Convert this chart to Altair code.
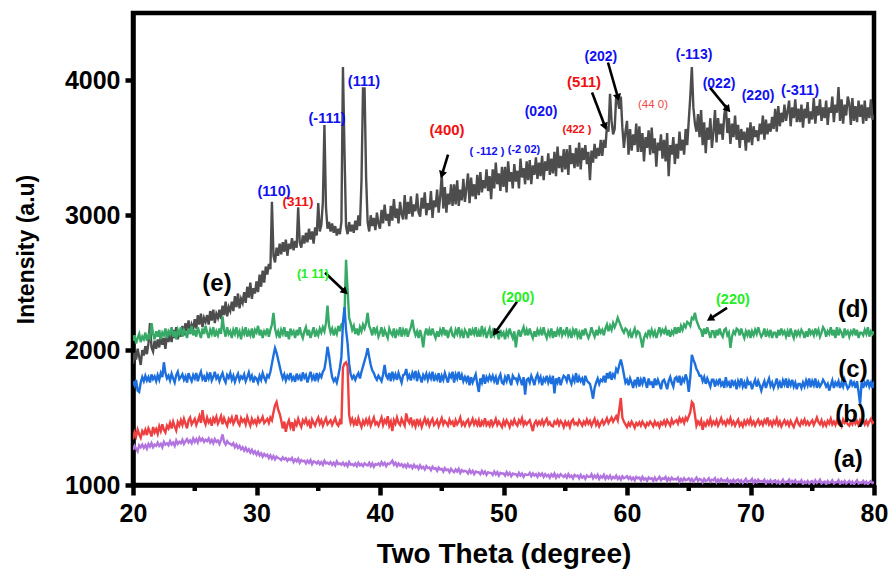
import math
import altair as alt
import pandas as pd

# ---------------- data ----------------
theta_start = 20.0
theta_step = 0.125

# (a) purple
a_vals = [
    1260, 1290, 1270, 1250, 1295, 1280, 1300, 1275,
    1295, 1270, 1305, 1285, 1310, 1280, 1300, 1290,
    1315, 1290, 1305, 1280, 1320, 1300, 1310, 1295,
    1325, 1300, 1315, 1290, 1330, 1305, 1320, 1310,
    1335, 1305, 1325, 1340, 1315, 1330, 1310, 1345,
    1320, 1340, 1315, 1350, 1330, 1345, 1320, 1335,
    1325, 1345, 1315, 1335, 1310, 1340, 1320, 1330,
    1305, 1335, 1375, 1320, 1300, 1325, 1310, 1305,
    1295, 1310, 1280, 1300, 1275, 1290, 1265, 1280,
    1255, 1275, 1250, 1265, 1240, 1260, 1235, 1250,
    1225, 1245, 1220, 1235, 1210, 1230, 1215, 1225,
    1200, 1220, 1195, 1215, 1190, 1210, 1200, 1195,
    1185, 1205, 1190, 1200, 1180, 1195, 1185, 1200,
    1170, 1190, 1175, 1195, 1165, 1185, 1175, 1180,
    1160, 1180, 1165, 1185, 1155, 1175, 1170, 1160,
    1175, 1155, 1170, 1150, 1180, 1160, 1165, 1155,
    1170, 1150, 1165, 1145, 1175, 1155, 1160, 1150,
    1165, 1145, 1160, 1140, 1170, 1150, 1155, 1145,
    1160, 1140, 1165, 1145, 1155, 1140, 1160, 1150,
    1145, 1165, 1140, 1160, 1135, 1155, 1150, 1160,
    1145, 1170, 1150, 1165, 1140, 1160, 1155, 1165,
    1180, 1150, 1165, 1140, 1160, 1145, 1155, 1135,
    1150, 1130, 1155, 1135, 1145, 1125, 1150, 1130,
    1140, 1120, 1145, 1125, 1135, 1115, 1140, 1125,
    1130, 1110, 1135, 1120, 1125, 1105, 1130, 1115,
    1120, 1100, 1125, 1110, 1115, 1095, 1120, 1105,
    1095, 1115, 1100, 1120, 1090, 1110, 1100, 1105,
    1100, 1085, 1110, 1090, 1105, 1080, 1100, 1095,
    1095, 1080, 1105, 1085, 1100, 1075, 1095, 1090,
    1090, 1075, 1100, 1080, 1095, 1070, 1090, 1085,
    1085, 1070, 1095, 1075, 1090, 1065, 1085, 1080,
    1080, 1065, 1090, 1070, 1085, 1060, 1080, 1075,
    1075, 1090, 1065, 1085, 1070, 1080, 1060, 1085,
    1070, 1085, 1060, 1080, 1065, 1075, 1055, 1080,
    1065, 1085, 1055, 1075, 1060, 1080, 1070, 1060,
    1075, 1055, 1080, 1060, 1070, 1050, 1075, 1065,
    1070, 1050, 1075, 1055, 1065, 1045, 1070, 1060,
    1060, 1080, 1050, 1070, 1055, 1075, 1045, 1065,
    1055, 1075, 1045, 1065, 1050, 1070, 1045, 1060,
    1050, 1070, 1045, 1060, 1040, 1065, 1050, 1055,
    1065, 1045, 1060, 1040, 1055, 1035, 1060, 1050,
    1055, 1035, 1060, 1040, 1050, 1030, 1055, 1045,
    1050, 1030, 1055, 1035, 1045, 1060, 1035, 1050,
    1045, 1060, 1030, 1050, 1035, 1055, 1040, 1045,
    1040, 1055, 1025, 1045, 1030, 1050, 1035, 1040,
    1050, 1030, 1045, 1025, 1040, 1055, 1030, 1045,
    1040, 1020, 1045, 1030, 1035, 1050, 1025, 1040,
    1035, 1050, 1020, 1040, 1025, 1045, 1030, 1035,
    1030, 1045, 1015, 1035, 1025, 1040, 1020, 1035,
    1040, 1020, 1035, 1015, 1030, 1045, 1020, 1030,
    1030, 1045, 1015, 1035, 1020, 1040, 1025, 1030,
    1025, 1040, 1010, 1030, 1020, 1035, 1015, 1030,
    1035, 1015, 1030, 1010, 1025, 1040, 1015, 1025,
    1025, 1040, 1010, 1030, 1020, 1035, 1015, 1025,
    1020, 1035, 1005, 1025, 1015, 1030, 1010, 1025,
    1030, 1010, 1035, 1015, 1025, 1040, 1010, 1020,
    1025, 1005, 1030, 1015, 1020, 1035, 1010, 1020,
    1020, 1035, 1005, 1025, 1015, 1030, 1010, 1020,
    1030, 1010, 1025, 1005, 1020, 1035, 1010, 1020,
    1015, 1030, 1010, 1025, 1005, 1020, 1030, 1015,
    1020,
]

# (b) red
b_vals = [
    1340, 1390, 1360, 1410, 1375, 1350, 1400, 1380,
    1410, 1370, 1420, 1395, 1360, 1430, 1390, 1415,
    1380, 1435, 1400, 1450, 1410, 1390, 1440, 1420,
    1460, 1420, 1470, 1435, 1405, 1465, 1440, 1480,
    1445, 1490, 1455, 1420, 1480, 1500, 1450, 1470,
    1490, 1445, 1475, 1510, 1460, 1555, 1480, 1450,
    1500, 1465, 1485, 1440, 1495, 1470, 1505, 1455,
    1480, 1510, 1450, 1495, 1465, 1440, 1490, 1470,
    1500, 1455, 1480, 1520, 1465, 1445, 1495, 1470,
    1485, 1450, 1505, 1470, 1440, 1490, 1460, 1480,
    1450, 1495, 1465, 1480, 1505, 1460, 1475, 1490,
    1460, 1500, 1480, 1540, 1590, 1615, 1560, 1530,
    1480, 1420, 1470, 1395, 1450, 1480, 1430, 1465,
    1400, 1470, 1445, 1490, 1455, 1430, 1480, 1460,
    1490, 1450, 1470, 1420, 1485, 1460, 1440, 1475,
    1500, 1455, 1480, 1440, 1470, 1495, 1450, 1465,
    1480, 1445, 1470, 1495, 1455, 1440, 1475, 1450,
    1870, 1900, 1910, 1880, 1520, 1460, 1490, 1450,
    1480, 1440, 1495, 1460, 1430, 1475, 1450, 1485,
    1455, 1490, 1440, 1470, 1500, 1450, 1465, 1440,
    1470, 1500, 1445, 1480, 1460, 1510, 1440, 1470,
    1400, 1480, 1455, 1500, 1460, 1445, 1490, 1465,
    1440, 1530, 1480, 1460, 1500, 1445, 1470, 1435,
    1490, 1450, 1475, 1430, 1465, 1495, 1455, 1480,
    1440, 1470, 1490, 1445, 1460, 1480, 1435, 1465,
    1495, 1450, 1475, 1460, 1440, 1485, 1455, 1470,
    1430, 1480, 1450, 1470, 1500, 1445, 1465, 1440,
    1470, 1485, 1440, 1460, 1490, 1450, 1475, 1445,
    1480, 1430, 1470, 1450, 1495, 1445, 1465, 1440,
    1485, 1440, 1460, 1490, 1445, 1470, 1450, 1430,
    1475, 1445, 1480, 1460, 1430, 1470, 1450, 1485,
    1455, 1440, 1480, 1460, 1495, 1445, 1470, 1450,
    1465, 1480, 1440, 1400, 1455, 1475, 1445, 1470,
    1450, 1480, 1445, 1470, 1490, 1450, 1465, 1440,
    1435, 1470, 1455, 1480, 1445, 1475, 1460, 1430,
    1470, 1445, 1465, 1430, 1470, 1485, 1450, 1460,
    1445, 1480, 1460, 1440, 1470, 1450, 1485, 1455,
    1475, 1440, 1465, 1490, 1445, 1470, 1435, 1460,
    1480, 1450, 1470, 1495, 1460, 1480, 1500, 1470,
    1490, 1510, 1480, 1560, 1645, 1500, 1470, 1450,
    1430, 1460, 1440, 1470, 1450, 1425, 1460, 1445,
    1465, 1440, 1470, 1450, 1430, 1460, 1445, 1470,
    1455, 1435, 1470, 1445, 1460, 1430, 1465, 1450,
    1475, 1445, 1480, 1460, 1440, 1485, 1455, 1470,
    1480, 1455, 1495, 1470, 1490, 1460, 1500, 1480,
    1510, 1540, 1615, 1600, 1520, 1440, 1470, 1450,
    1480, 1410, 1460, 1440, 1475, 1450, 1490, 1445,
    1470, 1450, 1480, 1440, 1465, 1495, 1455, 1470,
    1445, 1480, 1460, 1495, 1450, 1470, 1440, 1465,
    1485, 1440, 1460, 1435, 1475, 1450, 1480, 1455,
    1490, 1450, 1470, 1440, 1465, 1485, 1450, 1470,
    1445, 1480, 1460, 1500, 1450, 1470, 1440, 1475,
    1455, 1490, 1445, 1470, 1435, 1460, 1480, 1450,
    1470, 1440, 1475, 1450, 1430, 1465, 1490, 1455,
    1440, 1475, 1455, 1485, 1450, 1470, 1445, 1465,
    1480, 1445, 1470, 1500, 1465, 1450, 1480, 1440,
    1465, 1440, 1475, 1455, 1490, 1450, 1470, 1445,
    1480, 1455, 1470, 1440, 1485, 1460, 1475, 1450,
    1440, 1470, 1450, 1485, 1455, 1475, 1445, 1480,
    1460, 1480, 1450, 1475, 1445, 1470, 1490, 1460,
    1470,
]

# (c) blue
c_vals = [
    1770, 1740, 1780, 1700, 1690, 1760, 1800, 1770,
    1810, 1775, 1800, 1760, 1820, 1785, 1805, 1770,
    1815, 1780, 1830, 1800, 1910, 1830, 1790, 1810,
    1775, 1825, 1790, 1760, 1815, 1840, 1785, 1800,
    1820, 1780, 1805, 1760, 1830, 1795, 1770, 1815,
    1790, 1830, 1770, 1810, 1840, 1785, 1805, 1765,
    1820, 1790, 1835, 1775, 1800, 1840, 1790, 1810,
    1770, 1805, 1830, 1785, 1760, 1815, 1795, 1830,
    1780, 1810, 1765, 1800, 1825, 1775, 1805, 1790,
    1820, 1770, 1800, 1835, 1785, 1810, 1760, 1800,
    1790, 1760, 1810, 1780, 1830, 1795, 1770, 1815,
    1800, 1840, 1900, 1960, 2015, 1980, 1930, 1880,
    1830, 1790, 1820, 1775, 1810, 1790, 1830, 1780,
    1800, 1765, 1825, 1790, 1810, 1770, 1835, 1795,
    1815, 1760, 1800, 1840, 1785, 1810, 1770, 1830,
    1785, 1820, 1800, 1840, 1860, 1930, 2025, 1960,
    1870, 1800, 1770, 1790, 1760, 1810, 1870, 1950,
    2200, 2320, 2150, 2050, 1900, 1820, 1790, 1810,
    1780, 1810, 1830, 1790, 1840, 1880, 1920, 1960,
    2015, 1950, 1890, 1850, 1830, 1800, 1780, 1810,
    1790, 1770, 1820, 1890, 1810, 1790, 1830, 1770,
    1840, 1790, 1820, 1780, 1830, 1795, 1760, 1815,
    1820, 1860, 1790, 1815, 1775, 1830, 1800, 1845,
    1770, 1830, 1800, 1760, 1815, 1790, 1825, 1780,
    1820, 1790, 1840, 1770, 1810, 1785, 1830, 1760,
    1810, 1780, 1830, 1795, 1760, 1820, 1800, 1840,
    1760, 1820, 1790, 1840, 1780, 1815, 1770, 1800,
    1770, 1810, 1740, 1800, 1760, 1790, 1820, 1750,
    1690, 1790, 1760, 1820, 1750, 1800, 1775, 1810,
    1780, 1810, 1770, 1800, 1745, 1795, 1820, 1760,
    1750, 1800, 1770, 1820, 1780, 1740, 1810, 1790,
    1790, 1760, 1810, 1780, 1740, 1800, 1670, 1780,
    1790, 1760, 1810, 1780, 1740, 1795, 1820, 1770,
    1800, 1740, 1790, 1770, 1810, 1760, 1795, 1750,
    1810, 1680, 1790, 1760, 1800, 1740, 1780, 1810,
    1800, 1770, 1820, 1780, 1750, 1800, 1770, 1830,
    1760, 1800, 1770, 1790, 1740, 1810, 1775, 1760,
    1750, 1700, 1640, 1720, 1760, 1790, 1750, 1780,
    1770, 1810, 1760, 1830, 1790, 1840, 1780, 1820,
    1800, 1860, 1840, 1890, 1930, 1880, 1820, 1760,
    1780, 1740, 1790, 1760, 1720, 1780, 1745, 1800,
    1730, 1780, 1750, 1800, 1760, 1720, 1790, 1750,
    1760, 1720, 1790, 1740, 1780, 1750, 1710, 1770,
    1780, 1750, 1710, 1770, 1800, 1760, 1730, 1790,
    1800, 1760, 1810, 1740, 1790, 1770, 1820, 1780,
    1690, 1800, 1965, 1930, 1900, 1860, 1840, 1810,
    1810, 1770, 1800, 1750, 1790, 1760, 1730, 1780,
    1780, 1730, 1770, 1750, 1790, 1740, 1760, 1720,
    1800, 1740, 1760, 1720, 1780, 1745, 1765, 1710,
    1770, 1740, 1790, 1730, 1760, 1715, 1780, 1750,
    1760, 1710, 1750, 1780, 1730, 1770, 1740, 1700,
    1740, 1770, 1720, 1760, 1790, 1735, 1760, 1720,
    1750, 1790, 1730, 1760, 1720, 1775, 1745, 1790,
    1720, 1770, 1740, 1780, 1730, 1760, 1710, 1750,
    1750, 1720, 1760, 1730, 1775, 1740, 1790, 1725,
    1770, 1740, 1790, 1720, 1760, 1730, 1750, 1780,
    1760, 1730, 1750, 1700, 1740, 1775, 1720, 1760,
    1740, 1770, 1720, 1760, 1730, 1780, 1745, 1715,
    1730, 1780, 1740, 1760, 1720, 1770, 1690, 1600,
    1770, 1720, 1760, 1740, 1780, 1730, 1760, 1720,
    1770,
]

# (d) green
d_vals = [
    2070, 2110, 2050, 2090, 2120, 2060, 2100, 2080,
    2130, 2070, 2110, 2090, 2200, 2120, 2080, 2140,
    2100, 2150, 2080, 2130, 2110, 2160, 2090, 2140,
    2120, 2170, 2100, 2140, 2080, 2150, 2120, 2170,
    2100, 2150, 2130, 2090, 2160, 2120, 2180, 2110,
    2150, 2100, 2170, 2130, 2090, 2160, 2120, 2180,
    2130, 2090, 2150, 2120, 2170, 2100, 2140, 2110,
    2160, 2120, 2250, 2150, 2100, 2170, 2120, 2140,
    2090, 2150, 2120, 2170, 2110, 2140, 2080, 2150,
    2120, 2170, 2100, 2140, 2110, 2160, 2090, 2150,
    2130, 2180, 2110, 2150, 2090, 2140, 2120, 2160,
    2100, 2150, 2190, 2277, 2160, 2110, 2140, 2090,
    2150, 2120, 2170, 2100, 2140, 2080, 2160, 2120,
    2140, 2090, 2150, 2110, 2170, 2120, 2090, 2140,
    2170, 2110, 2150, 2090, 2130, 2170, 2100, 2140,
    2110, 2160, 2130, 2170, 2140, 2200, 2330, 2180,
    2130, 2160, 2110, 2150, 2120, 2180, 2140, 2190,
    2200, 2260, 2670, 2450, 2240, 2200, 2150, 2180,
    2120, 2160, 2110, 2170, 2140, 2190, 2160, 2200,
    2277, 2180, 2150, 2110, 2170, 2130, 2160, 2100,
    2130, 2170, 2100, 2150, 2120, 2090, 2160, 2130,
    2110, 2160, 2090, 2140, 2120, 2170, 2100, 2150,
    2120, 2160, 2100, 2140, 2170, 2225, 2150, 2110,
    2140, 2090, 2150, 2100, 2020, 2120, 2160, 2110,
    2150, 2110, 2160, 2120, 2090, 2140, 2100, 2150,
    2120, 2170, 2110, 2150, 2090, 2140, 2160, 2110,
    2100, 2150, 2120, 2170, 2110, 2140, 2090, 2150,
    2130, 2090, 2160, 2110, 2150, 2120, 2170, 2100,
    2140, 2100, 2180, 2120, 2150, 2090, 2130, 2160,
    2090, 2140, 2110, 2160, 2120, 2080, 2150, 2110,
    2130, 2080, 2140, 2110, 2160, 2120, 2090, 2140,
    2020, 2110, 2150, 2100, 2140, 2170, 2110, 2150,
    2110, 2160, 2120, 2090, 2140, 2100, 2150, 2120,
    2150, 2110, 2170, 2120, 2090, 2140, 2110, 2160,
    2090, 2140, 2100, 2150, 2120, 2170, 2110, 2140,
    2120, 2170, 2110, 2140, 2090, 2150, 2120, 2160,
    2100, 2130, 2080, 2150, 2110, 2160, 2120, 2090,
    2120, 2170, 2130, 2100, 2150, 2110, 2160, 2130,
    2150, 2110, 2160, 2190, 2140, 2180, 2150, 2200,
    2170, 2200, 2240, 2210, 2180, 2150, 2130, 2160,
    2150, 2110, 2140, 2090, 2130, 2160, 2110, 2140,
    2130, 2080, 2020, 2090, 2120, 2100, 2150, 2110,
    2150, 2110, 2140, 2090, 2130, 2170, 2120, 2150,
    2130, 2160, 2110, 2150, 2100, 2140, 2120, 2170,
    2120, 2170, 2130, 2180, 2150, 2190, 2170, 2210,
    2200, 2180, 2240, 2230, 2277, 2220, 2190, 2160,
    2150, 2100, 2160, 2120, 2170, 2130, 2090, 2140,
    2140, 2090, 2150, 2110, 2160, 2120, 2100, 2150,
    2160, 2110, 2130, 2017, 2100, 2140, 2120, 2160,
    2150, 2110, 2160, 2120, 2090, 2140, 2110, 2150,
    2090, 2140, 2110, 2150, 2120, 2170, 2130, 2100,
    2120, 2160, 2100, 2140, 2110, 2150, 2090, 2130,
    2130, 2090, 2150, 2110, 2160, 2120, 2140, 2100,
    2140, 2100, 2160, 2120, 2090, 2150, 2110, 2140,
    2110, 2150, 2130, 2090, 2140, 2100, 2160, 2120,
    2140, 2110, 2160, 2120, 2150, 2100, 2130, 2170,
    2150, 2100, 2140, 2120, 2170, 2110, 2150, 2090,
    2170, 2110, 2150, 2130, 2090, 2160, 2120, 2140,
    2100, 2140, 2120, 2160, 2110, 2150, 2090, 2130,
    2130, 2110, 2150, 2120, 2170, 2100, 2140, 2120,
    2140,
]

# (e) dark grey
e_vals = [
    1900, 1980, 1930, 2010, 1950, 1890, 2000, 1960,
    2030, 1970, 2050, 2200, 2020, 1990, 2070, 2010,
    2080, 2020, 2110, 2040, 2090, 2010, 2120, 2060,
    2130, 2060, 2150, 2090, 2170, 2080, 2140, 2100,
    2180, 2110, 2200, 2140, 2220, 2120, 2190, 2160,
    2230, 2160, 2260, 2190, 2270, 2170, 2240, 2210,
    2260, 2190, 2290, 2220, 2300, 2200, 2270, 2240,
    2300, 2230, 2330, 2260, 2360, 2250, 2320, 2290,
    2360, 2290, 2400, 2320, 2420, 2310, 2380, 2350,
    2430, 2350, 2470, 2390, 2500, 2380, 2460, 2420,
    2510, 2430, 2560, 2470, 2590, 2500, 2620, 2560,
    2640, 2600, 3100, 2700, 2650, 2760, 2700, 2790,
    2710, 2800, 2730, 2820, 2700, 2790, 2750, 2830,
    2740, 2810, 2760, 3060, 2800, 2760, 2850, 2790,
    2870, 2800, 2900, 2820, 2880, 2790, 2910, 2850,
    3090, 2880, 2930, 3100, 3670, 3060, 2900, 2950,
    2880, 2940, 2870, 2920, 2850, 2900, 2860, 2950,
    4100, 3470, 2920, 2860, 2950, 2880, 2930, 2870,
    2960, 2890, 3000, 2920, 3250, 3940, 3940, 3280,
    2950, 2880, 3000, 2920, 2980, 2890, 3020, 2940,
    2900, 3040, 2940, 3080, 2960, 3010, 2920, 3070,
    2960, 3120, 2980, 3050, 2940, 3100, 3010, 2970,
    3150, 2970, 3100, 3010, 3140, 2990, 3080, 3030,
    3160, 3020, 2990, 3130, 3050, 3170, 3000, 3090,
    3040, 3180, 2980, 3110, 3060, 3190, 3020, 3140,
    3300, 3050, 3210, 3020, 3160, 3080, 3230, 3070,
    3230, 3080, 3260, 3070, 3190, 3110, 3270, 3100,
    3200, 3310, 3090, 3280, 3140, 3230, 3120, 3300,
    3150, 3320, 3170, 3260, 3200, 3340, 3180, 3290,
    3120, 3340, 3200, 3390, 3230, 3310, 3180, 3360,
    3210, 3360, 3170, 3400, 3250, 3320, 3200, 3380,
    3250, 3330, 3200, 3420, 3280, 3350, 3230, 3400,
    3260, 3410, 3230, 3370, 3300, 3430, 3270, 3390,
    3290, 3440, 3260, 3400, 3330, 3460, 3300, 3420,
    3310, 3470, 3290, 3510, 3350, 3440, 3320, 3490,
    3340, 3490, 3300, 3520, 3380, 3460, 3350, 3500,
    3360, 3540, 3340, 3500, 3410, 3520, 3380, 3470,
    3260, 3480, 3390, 3530, 3420, 3500, 3440, 3560,
    3440, 3560, 3500, 3660, 3620, 3900, 3700, 3600,
    3640, 3880, 3850, 3790, 3880, 3650, 3500, 3620,
    3700, 3450, 3640, 3480, 3600, 3520, 3680, 3470,
    3660, 3470, 3610, 3400, 3580, 3500, 3630, 3450,
    3650, 3460, 3570, 3360, 3540, 3480, 3600, 3420,
    3560, 3400, 3610, 3290, 3520, 3450, 3580, 3380,
    3530, 3420, 3620, 3480, 3560, 3450, 3640, 3520,
    3700, 3880, 4100, 3800, 3680, 3620, 3750, 3580,
    3780, 3520, 3690, 3460, 3650, 3560, 3720, 3500,
    3620, 3780, 3540, 3720, 3600, 3680, 3560, 3740,
    3820, 3610, 3720, 3530, 3680, 3580, 3740, 3560,
    3670, 3500, 3640, 3560, 3620, 3480, 3650, 3540,
    3690, 3520, 3660, 3580, 3630, 3550, 3680, 3600,
    3740, 3560, 3710, 3600, 3680, 3620, 3730, 3640,
    3790, 3620, 3810, 3660, 3760, 3690, 3820, 3700,
    3770, 3850, 3660, 3800, 3720, 3860, 3690, 3790,
    3690, 3820, 3650, 3790, 3720, 3840, 3680, 3770,
    3710, 3870, 3680, 3810, 3740, 3860, 3700, 3800,
    3720, 3850, 3670, 3800, 3760, 3880, 3690, 3820,
    3760, 3950, 3700, 3860, 3680, 3820, 3740, 3880,
    3830, 3670, 3870, 3700, 3810, 3690, 3850, 3730,
    3820, 3680, 3850, 3700, 3800, 3720, 3860, 3710,
    3740,
]

series_names = ["(e)", "(d)", "(c)", "(b)", "(a)"]
series_values = [e_vals, d_vals, c_vals, b_vals, a_vals]
series_colors = ["#4D4D4D", "#38AA68", "#1C6FDD", "#EE4040", "#B274DE"]

# Miller-index annotations
hkl_text = ["(110)", "(-111)", "(111)", "( -112 )", "(-2 02)", "(020)", "(202)", "(-113)",
            "(022)", "(220)", "(-311)",
            "(311)", "(400)", "(422 )", "(511)", "(44 0)",
            "(1 11)", "(200)", "(220)"]
hkl_x = [31.42, 35.71, 38.70, 48.66, 51.66, 53.04, 57.89, 65.43, 67.45, 70.61, 74.01,
         33.36, 45.43, 55.95, 56.52, 62.11,
         34.57, 51.17, 68.58]
hkl_y = [3175, 3717, 3992, 3472, 3487, 3769, 4177, 4185, 3970, 3888, 3925,
         3101, 3636, 3636, 3992, 3821,
         2566, 2388, 2373]
hkl_color = ["#1010F0"] * 11 + ["#F01010", "#F01010", "#F01010", "#F01010", "#F04848"] + ["#22EE22"] * 3
hkl_size = [14.5, 14.5, 14.5, 11, 11, 14, 14, 14, 14, 14, 14.5,
            13.5, 15, 11, 15, 11.5,
            12.5, 14, 14.5]
hkl_bold = [True] * 15 + [False] + [True] * 3

# arrows (tail -> head)
arrow_x0 = [35.55, 51.09, 68.10, 45.51, 57.17, 58.46, 66.72]
arrow_y0 = [2574, 2359, 2314, 3450, 3910, 4133, 3947]
arrow_x1 = [37.17, 49.31, 66.72, 45.02, 58.22, 59.27, 68.18]
arrow_y1 = [2433, 2128, 2232, 3301, 3658, 3873, 3784]

# sample labels
sample_text = ["(a)", "(b)", "(c)", "(d)", "(e)"]
sample_x = [77.9, 78.1, 78.3, 78.3, 26.8]
sample_y = [1186, 1520, 1854, 2299, 2492]

x_major = [20, 30, 40, 50, 60, 70, 80]
x_minor = [25, 35, 45, 55, 65, 75]
y_major = [1000, 2000, 3000, 4000]

# ---------------- chart ----------------
W, H = 741, 472
x_dom = [20, 80]
y_dom = [1000, 4500]
FONT = "Liberation Sans"

xs = alt.Scale(domain=x_dom, nice=False, zero=False)
ys = alt.Scale(domain=y_dom, nice=False, zero=False)

x_axis = alt.Axis(values=x_major, format="d", title="Two Theta (degree)", grid=False,
                  ticks=True, domain=True, tickSize=10, tickWidth=4.5, tickColor="black",
                  domainColor="black", domainWidth=4.5,
                  labelFont=FONT, labelFontSize=25, labelFontWeight="bold", labelColor="black",
                  labelPadding=6, titleFont=FONT, titleFontSize=28, titleFontWeight="bold",
                  titleColor="black", titlePadding=14, labelFlush=False)
y_axis = alt.Axis(values=y_major, format="d", title="Intensity (a.u)", grid=False,
                  ticks=True, domain=True, tickSize=8, tickWidth=4.5, tickColor="black",
                  domainColor="black", domainWidth=4.5,
                  labelFont=FONT, labelFontSize=25, labelFontWeight="bold", labelColor="black",
                  labelPadding=5, titleFont=FONT, titleFontSize=23, titleFontWeight="bold",
                  titleColor="black", titlePadding=26, labelFlush=False)


def X(field):
    return alt.X(field, scale=xs, axis=x_axis, title="Two Theta (degree)")


def Y(field):
    return alt.Y(field, scale=ys, axis=y_axis, title="Intensity (a.u)")


layers = []
for name, vals, col in zip(series_names, series_values, series_colors):
    df = pd.DataFrame({
        "theta": [theta_start + theta_step * k for k in range(len(vals))],
        "intensity": vals,
    })
    layers.append(
        alt.Chart(df).mark_line(color=col, strokeWidth=2.4, clip=True).encode(
            x=X("theta:Q"), y=Y("intensity:Q"))
    )

# minor x ticks
minor_df = pd.DataFrame({"t": x_minor})
layers.append(
    alt.Chart(minor_df).mark_rule(color="black", strokeWidth=4.5).encode(
        x=X("t:Q"), y=alt.value(H), y2=alt.value(H + 6)
    )
)

# arrows
px_per_x = W / (x_dom[1] - x_dom[0])
px_per_y = H / (y_dom[1] - y_dom[0])
ang = []
for x0, y0, x1, y1 in zip(arrow_x0, arrow_y0, arrow_x1, arrow_y1):
    dx = (x1 - x0) * px_per_x
    dy = -(y1 - y0) * px_per_y
    ang.append(math.degrees(math.atan2(dx, -dy)) % 360)
arrow_df = pd.DataFrame({"x0": arrow_x0, "y0": arrow_y0, "x1": arrow_x1, "y1": arrow_y1, "ang": ang})
layers.append(
    alt.Chart(arrow_df).mark_rule(color="black", strokeWidth=2.6).encode(
        x=X("x0:Q"), y=Y("y0:Q"), x2="x1:Q", y2="y1:Q")
)
layers.append(
    alt.Chart(arrow_df).mark_point(shape="triangle-up", filled=True, color="black", size=70,
                                   opacity=1).encode(
        x=X("x1:Q"), y=Y("y1:Q"), angle=alt.Angle("ang:Q", scale=None))
)

# hkl labels
hkl_df = pd.DataFrame({"t": hkl_text, "x": hkl_x, "y": hkl_y, "c": hkl_color, "s": hkl_size,
                       "b": hkl_bold})
for bold in (True, False):
    sub = hkl_df[hkl_df["b"] == bold]
    layers.append(
        alt.Chart(sub).mark_text(font=FONT, fontWeight="bold" if bold else "normal",
                                 align="center", baseline="middle").encode(
            x=X("x:Q"), y=Y("y:Q"),
            text="t:N", color=alt.Color("c:N", scale=None), size=alt.Size("s:Q", scale=None))
    )

# sample labels
samp_df = pd.DataFrame({"t": sample_text, "x": sample_x, "y": sample_y})
layers.append(
    alt.Chart(samp_df).mark_text(font=FONT, fontWeight="bold", fontSize=24, color="black",
                                 align="center", baseline="middle").encode(
        x=X("x:Q"), y=Y("y:Q"), text="t:N")
)

chart = alt.layer(*layers).properties(
    width=W, height=H,
    autosize=alt.AutoSizeParams(type="none"),
    padding={"left": 133, "top": 13, "right": 14, "bottom": 85},
    background="white",
).configure_view(stroke="black", strokeWidth=4.5)

chart.save("out.html", embed_options={"renderer": "svg", "actions": False})
